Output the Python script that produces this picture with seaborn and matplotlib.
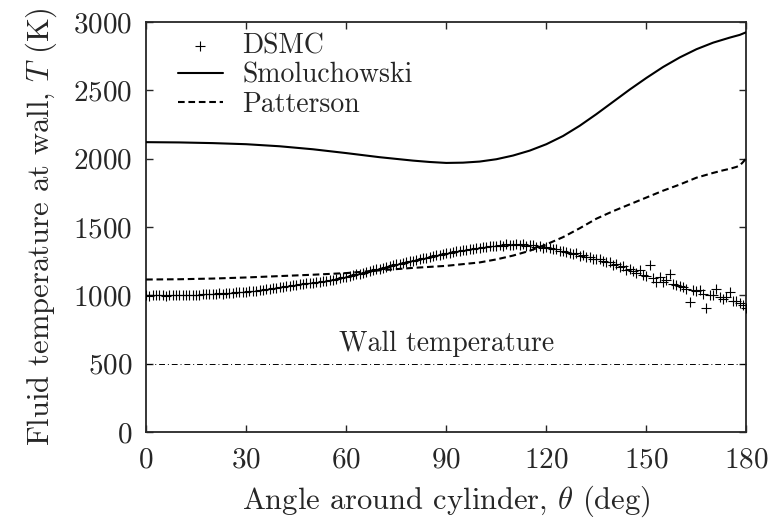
import numpy as np
import pandas as pd
import matplotlib
matplotlib.use("Agg")
import matplotlib.pyplot as plt
import seaborn as sns

# ---- data ----
dsmc_theta = list(range(0, 181))
dsmc_T = [
    1002, 998, 1001, 999, 1000, 1003, 997, 1001, 1000, 1002,
    1001, 999, 1003, 1002, 1004, 1005, 1003, 1007, 1006, 1009,
    1010, 1011, 1013, 1012, 1016, 1018, 1019, 1022, 1023, 1025,
    1027, 1029, 1031, 1034, 1036, 1040, 1043, 1046, 1050, 1054,
    1058, 1061, 1065, 1068, 1072, 1075, 1079, 1082, 1086, 1089,
    1092, 1096, 1099, 1103, 1106, 1110, 1115, 1119, 1124, 1130,
    1135, 1141, 1146, 1152, 1159, 1165, 1171, 1178, 1184, 1190,
    1195, 1202, 1208, 1214, 1219, 1225, 1231, 1237, 1242, 1247,
    1252, 1258, 1263, 1269, 1274, 1280, 1286, 1291, 1297, 1303,
    1308, 1312, 1318, 1321, 1326, 1331, 1334, 1339, 1341, 1345,
    1348, 1352, 1350, 1358, 1361, 1362, 1366, 1360, 1372, 1368,
    1370, 1375, 1366, 1372, 1362, 1365, 1370, 1355, 1363, 1348,
    1352, 1344, 1338, 1340, 1322, 1325, 1318, 1312, 1300, 1306,
    1290, 1295, 1278, 1283, 1268, 1262, 1265, 1250, 1240, 1246,
    1222, 1228, 1205, 1215, 1183, 1195, 1178, 1160, 1185, 1150,
    1140, 1220, 1125, 1097, 1130, 1095, 1110, 1158, 1080, 1072,
    1068, 1058, 1045, 953, 1036, 1030, 1040, 1012, 909, 1005,
    1000, 1049, 985, 975, 990, 1025, 960, 955, 940, 930,
    905,
]

smol_theta = [0, 10, 20, 30, 40, 50, 60, 70, 80, 85, 90, 95, 100, 105, 110,
              115, 120, 125, 130, 135, 140, 145, 150, 155, 160, 165, 170,
              175, 178, 180]
smol_T = [2120, 2118, 2113, 2105, 2090, 2068, 2040, 2010, 1985, 1975, 1968,
          1970, 1978, 1995, 2022, 2058, 2105, 2165, 2240, 2325, 2415, 2505,
          2590, 2670, 2740, 2800, 2848, 2885, 2905, 2925]

patt_theta = [0, 10, 20, 30, 40, 50, 60, 70, 80, 90, 100, 105, 110, 115, 120,
              125, 130, 135, 140, 145, 150, 155, 160, 165, 170, 173, 175, 177,
              178, 179, 180]
patt_T = [1115, 1117, 1122, 1130, 1140, 1150, 1162, 1182, 1200, 1215, 1240,
          1262, 1290, 1325, 1372, 1425, 1490, 1560, 1615, 1665, 1715, 1765,
          1810, 1860, 1895, 1914, 1925, 1939, 1950, 1975, 2005]

wall_theta = [0, 180]
wall_T = [500, 500]

x_ticks = [0, 30, 60, 90, 120, 150, 180]
y_ticks = [0, 500, 1000, 1500, 2000, 2500, 3000]

# ---- style ----
sns.set_style("ticks")
plt.rcParams.update({
    "font.family": "serif",
    "font.serif": ["cmr10", "DejaVu Serif"],
    "mathtext.fontset": "cm",
    "axes.formatter.use_mathtext": True,
    "font.size": 21,
    "axes.linewidth": 1.3,
    "xtick.direction": "in",
    "ytick.direction": "in",
    "xtick.top": True,
    "ytick.right": True,
    "xtick.major.size": 5,
    "ytick.major.size": 5,
    "xtick.major.width": 1.0,
    "ytick.major.width": 1.0,
    "xtick.major.pad": 11,
    "ytick.major.pad": 10,
    "xtick.labelsize": 21,
    "ytick.labelsize": 21,
})

fig = plt.figure(figsize=(7.73, 5.21), dpi=100)
ax = fig.add_axes([0.189, 0.171, 0.7767, 0.787])

df_d = pd.DataFrame({"theta": dsmc_theta, "T": dsmc_T})
df_s = pd.DataFrame({"theta": smol_theta, "T": smol_T})
df_p = pd.DataFrame({"theta": patt_theta, "T": patt_T})
df_w = pd.DataFrame({"theta": wall_theta, "T": wall_T})

sns.scatterplot(data=df_d, x="theta", y="T", ax=ax, marker="+", color="black",
                s=55, linewidth=0.8, label="DSMC", zorder=3)
sns.lineplot(data=df_s, x="theta", y="T", ax=ax, color="black", lw=1.5,
             label="Smoluchowski", zorder=4)
sns.lineplot(data=df_p, x="theta", y="T", ax=ax, color="black", lw=1.5,
             label="Patterson", zorder=4)
ax.lines[-1].set_dashes([3.2, 1.8])
sns.lineplot(data=df_w, x="theta", y="T", ax=ax, color="black", lw=0.7,
             zorder=2, legend=False)
ax.lines[-1].set_linestyle((0, (6, 3, 1, 3)))

ax.text(90, 545, "Wall temperature", ha="center", va="bottom", fontsize=20)

ax.set_xlim(0, 180)
ax.set_ylim(0, 3000)
ax.set_xticks(x_ticks)
ax.set_yticks(y_ticks)
ax.set_xlabel(r"Angle around cylinder, $\theta$ (deg)", labelpad=7, fontsize=22)
ax.set_ylabel(r"Fluid temperature at wall, $T$ (K)", labelpad=10, fontsize=22)

leg = ax.legend(loc="upper left", bbox_to_anchor=(0.035, 1.0), frameon=False,
                fontsize=20, handlelength=1.6, handletextpad=0.7,
                labelspacing=0.1, borderaxespad=0.2, scatterpoints=1,
                borderpad=0.2)
for sp in ax.spines.values():
    sp.set_visible(True)

fig.savefig("out.png", dpi=100)
